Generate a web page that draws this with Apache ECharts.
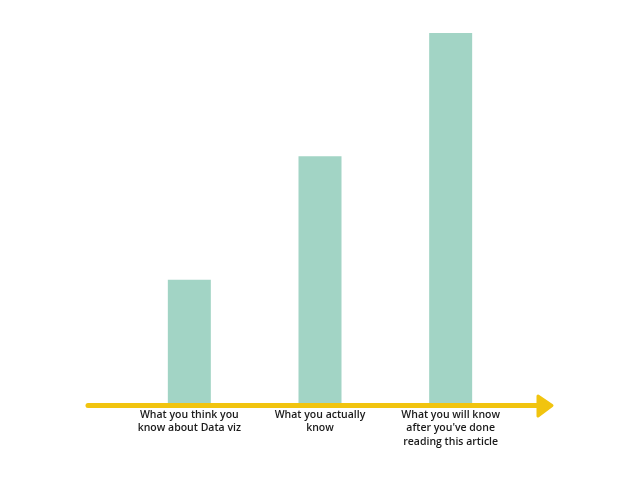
<!DOCTYPE html>
<html><head><meta charset="utf-8">
<script src="https://cdn.jsdelivr.net/npm/echarts@6/dist/echarts.min.js"></script>
<style>html,body{margin:0;padding:0;background:#fff}#c{width:640px;height:480px}</style>
</head><body><div id="c"></div>
<script>
const categories = ["What you think you\nknow about Data viz", "What you actually\nknow", "What you will know\nafter you've done\nreading this article"];
const values = [1, 2, 3];

const chart = echarts.init(document.getElementById('c'), null, {renderer: 'canvas'});
chart.setOption({
  backgroundColor: '#ffffff',
  animation: false,
  grid: {left: 124, right: 124, top: 33, bottom: 77},
  xAxis: {
    type: 'category',
    data: categories,
    axisLine: {show: false},
    axisTick: {show: false},
    axisLabel: {color: '#1a1a1a', fontFamily: 'Open Sans', fontSize: 10.5, fontWeight: 600, lineHeight: 13.5, margin: 5, interval: 0}
  },
  yAxis: {type: 'value', min: 0, max: 3, show: false, splitLine: {show: false}},
  series: [{
    type: 'bar',
    data: values,
    barWidth: 43,
    itemStyle: {color: '#a2d4c5'}
  }],
  graphic: [
    {type: 'line', z: 100, shape: {x1: 88, y1: 405.5, x2: 541, y2: 405.5}, style: {stroke: '#f1c40f', lineWidth: 5, lineCap: 'round'}},
    {type: 'polygon', z: 100, shape: {points: [[538, 396], [552, 405.5], [538, 416]]}, style: {fill: '#f1c40f', stroke: '#f1c40f', lineWidth: 3, lineJoin: 'round'}}
  ]
});
</script></body></html>
